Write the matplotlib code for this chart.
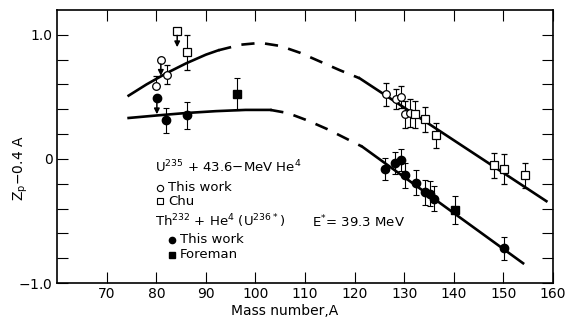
import matplotlib.pyplot as plt
import numpy as np

# U235 + He4, this work (open circles)
oc_x = [79.9, 82.1, 126.3, 128.3, 129.4, 130.2, 131.2]
oc_y = [0.585, 0.68, 0.52, 0.48, 0.50, 0.36, 0.37]
oc_lo = [0.0, 0.08, 0.09, 0.08, 0.09, 0.11, 0.11]
oc_hi = [0.08, 0.08, 0.09, 0.08, 0.09, 0.11, 0.11]
oc_lim_x = [80.9]
oc_lim_y = [0.80]

# Chu (open squares)
os_x = [86.1, 132.2, 134.2, 136.4, 148.2, 150.2, 154.3]
os_y = [0.86, 0.36, 0.32, 0.19, -0.05, -0.08, -0.13]
os_err = [0.14, 0.11, 0.10, 0.10, 0.10, 0.12, 0.10]
os_lim_x = [84.2]
os_lim_y = [1.03]

# Th232 + He4, this work (filled circles)
fc_x = [82.0, 86.1, 126.1, 128.1, 129.3, 130.2, 132.4, 134.2, 135.2, 136.1, 150.1]
fc_y = [0.31, 0.35, -0.08, -0.035, -0.01, -0.13, -0.19, -0.27, -0.28, -0.32, -0.72]
fc_err = [0.10, 0.11, 0.09, 0.09, 0.09, 0.10, 0.10, 0.10, 0.10, 0.10, 0.09]
fc_lim_x = [80.1]
fc_lim_y = [0.49]

# Foreman (filled squares)
fs_x = [96.2, 140.2]
fs_y = [0.525, -0.41]
fs_err = [0.13, 0.11]

# curves
up_solid1_x = [74.4, 78, 82, 86, 90, 92.5]
up_solid1_y = [0.51, 0.60, 0.69, 0.77, 0.84, 0.875]
up_dash_x = [92.5, 97, 101, 105, 109, 113, 117, 121]
up_dash_y = [0.875, 0.92, 0.935, 0.91, 0.855, 0.785, 0.715, 0.65]
up_solid2_x = [121, 158.7]
up_solid2_y = [0.65, -0.34]

lo_solid1_x = [74.4, 80, 86, 92, 98, 103]
lo_solid1_y = [0.33, 0.35, 0.37, 0.385, 0.395, 0.395]
lo_dash_x = [103, 106.5, 110.5, 114.5, 118.5, 121.5]
lo_dash_y = [0.395, 0.37, 0.31, 0.24, 0.16, 0.10]
lo_solid2_x = [121.5, 154.0]
lo_solid2_y = [0.10, -0.84]

fig = plt.figure(figsize=(5.67, 3.21), dpi=100)
ax = fig.add_axes([0.101, 0.118, 0.874, 0.851])

lw = 1.9
for xs, ys, ls in [(up_solid1_x, up_solid1_y, '-'), (up_dash_x, up_dash_y, (0, (5, 4))),
                   (up_solid2_x, up_solid2_y, '-'), (lo_solid1_x, lo_solid1_y, '-'),
                   (lo_dash_x, lo_dash_y, (0, (5, 4))), (lo_solid2_x, lo_solid2_y, '-')]:
    ax.plot(xs, ys, color='black', lw=lw, ls=ls, zorder=2)

eb = dict(ecolor='black', elinewidth=0.8, capsize=2.5, capthick=0.8, ls='none', zorder=3)
ax.errorbar(oc_x, oc_y, yerr=[oc_lo, oc_hi], marker='o', ms=5.5, mfc='white', mec='black', mew=0.9, **eb)
ax.errorbar(os_x, os_y, yerr=os_err, marker='s', ms=5.5, mfc='white', mec='black', mew=0.9, **eb)
ax.errorbar(fc_x, fc_y, yerr=fc_err, marker='o', ms=6, mfc='black', mec='black', **eb)
ax.errorbar(fs_x, fs_y, yerr=fs_err, marker='s', ms=5.5, mfc='black', mec='black', **eb)

ax.plot(oc_lim_x, oc_lim_y, 'o', ms=5.5, mfc='white', mec='black', mew=0.9, zorder=3)
ax.plot(os_lim_x, os_lim_y, 's', ms=5.5, mfc='white', mec='black', mew=0.9, zorder=3)
ax.plot(fc_lim_x, fc_lim_y, 'o', ms=6, color='black', zorder=3)
for x, y in zip(oc_lim_x + os_lim_x + fc_lim_x, oc_lim_y + os_lim_y + fc_lim_y):
    ax.annotate('', xy=(x, y - 0.13), xytext=(x, y - 0.035),
                arrowprops=dict(arrowstyle='-|>', color='black', lw=1.1, mutation_scale=8,
                                shrinkA=0, shrinkB=0))

# legend drawn as text
fs = 9.5
ax.text(79.8, -0.065, r'U$^{235}$ + 43.6$-$MeV He$^4$', fontsize=fs, va='center')
ax.plot([80.8], [-0.23], 'o', ms=4.5, mfc='white', mec='black', mew=0.8)
ax.text(82.3, -0.23, 'This work', fontsize=fs, va='center')
ax.plot([80.8], [-0.34], 's', ms=4.5, mfc='white', mec='black', mew=0.8)
ax.text(82.3, -0.34, 'Chu', fontsize=fs, va='center')
ax.text(79.8, -0.50, r'Th$^{232}$ + He$^4$ (U$^{236*}$)', fontsize=fs, va='center')
ax.plot([83.2], [-0.65], 'o', ms=4.5, color='black')
ax.text(84.7, -0.65, 'This work', fontsize=fs, va='center')
ax.plot([83.2], [-0.77], 's', ms=4.5, color='black')
ax.text(84.7, -0.77, 'Foreman', fontsize=fs, va='center')
ax.text(111.5, -0.51, r'E$^{*}$= 39.3 MeV', fontsize=fs, va='center')

ax.set_xlim(60, 160)
ax.set_ylim(-1.0, 1.2)
ax.set_xticks(np.arange(70, 161, 10))
ax.set_yticks([-1.0, 0, 1.0])
ax.set_yticklabels(['$-$1.0', '0', '1.0'])
ax.set_yticks(np.arange(-0.8, 1.01, 0.2), minor=True)
ax.tick_params(which='both', direction='in', top=True, right=True, length=8, width=0.8, labelsize=10)
ax.tick_params(axis='x', pad=3)
for s in ax.spines.values():
    s.set_linewidth(1.2)

ax.set_xlabel('Mass number,A', fontsize=10)
ax.xaxis.set_label_coords(0.459, -0.075)
ax.set_ylabel(r'Z$_\mathrm{p}$$-$0.4 A', fontsize=10)
ax.yaxis.set_label_coords(-0.055, 0.42)

fig.savefig('out.png', dpi=100)
